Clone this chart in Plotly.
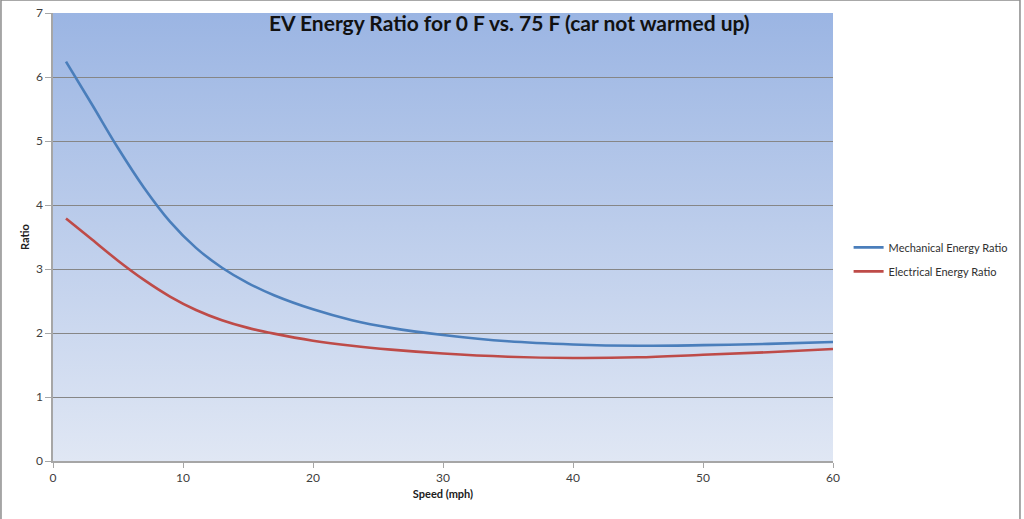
import base64
import plotly.graph_objects as go

speed = [1, 3, 5, 7, 9, 11, 13, 15, 17, 20, 23, 26, 30, 35, 40, 45, 50, 55, 60]
mechanical = [6.24, 5.57, 4.89, 4.27, 3.74, 3.33, 3.02, 2.78, 2.59, 2.37, 2.20, 2.08, 1.97, 1.87, 1.82, 1.80, 1.81, 1.83, 1.86]
electrical = [3.79, 3.46, 3.13, 2.83, 2.57, 2.36, 2.20, 2.08, 1.99, 1.88, 1.80, 1.74, 1.68, 1.63, 1.61, 1.62, 1.66, 1.70, 1.75]

title = "EV Energy Ratio for 0 F vs. 75 F (car not warmed up)"
font_family = "Lato, 'Open Sans', sans-serif"

fig = go.Figure()
fig.add_trace(go.Scatter(x=speed, y=mechanical, mode="lines", name="Mechanical Energy Ratio",
                         legendgroup="a",
                         line=dict(color="#4A7EBB", width=2.6, shape="spline", smoothing=1.0)))
fig.add_trace(go.Scatter(x=speed, y=electrical, mode="lines", name="Electrical Energy Ratio",
                         legendgroup="b",
                         line=dict(color="#BE4B48", width=2.6, shape="spline", smoothing=1.0)))

svg = ('<svg xmlns="http://www.w3.org/2000/svg" width="100" height="100" preserveAspectRatio="none">'
       '<defs><linearGradient id="g" x1="0" y1="0" x2="0" y2="1">'
       '<stop offset="0" stop-color="rgb(155,181,227)"/>'
       '<stop offset="1" stop-color="rgb(224,231,244)"/>'
       '</linearGradient></defs><rect width="100" height="100" fill="url(#g)"/></svg>')
src = "data:image/svg+xml;base64," + base64.b64encode(svg.encode()).decode()

shapes = [dict(type="rect", xref="paper", yref="paper", x0=-0.0667, x1=1.2397,
               y0=-0.15, y1=1.029, line=dict(color="#8C8C8C", width=1.5),
               fillcolor="rgba(0,0,0,0)", layer="above")]

fig.update_layout(
    width=1024, height=519,
    margin=dict(l=53, r=191, t=13, b=58, autoexpand=False),
    paper_bgcolor="white", plot_bgcolor="rgb(190,206,236)",
    images=[dict(source=src, xref="paper", yref="paper", x=0, y=1, sizex=1, sizey=1,
                 xanchor="left", yanchor="top", sizing="stretch", layer="below")],
    shapes=shapes,
    font=dict(family=font_family, size=12, color="#404040"),
    showlegend=True,
    legend=dict(x=1.02, xanchor="left", y=0.45, yanchor="middle", itemwidth=30,
                font=dict(size=11, color="#303030"), tracegroupgap=5,
                bgcolor="rgba(0,0,0,0)"),
    annotations=[dict(text="<b>" + title + "</b>", xref="paper", yref="paper",
                      x=0.585, y=0.978, xanchor="center", yanchor="middle",
                      showarrow=False, font=dict(size=21, color="#111111", family=font_family))],
)
fig.update_xaxes(range=[0, 60], tickvals=[0, 10, 20, 30, 40, 50, 60], showgrid=False,
                 showline=True, linecolor="#A6A6A6", linewidth=1.5, ticks="outside",
                 ticklen=5, tickcolor="#A6A6A6", zeroline=False, automargin=False,
                 title=dict(text="<b>Speed (mph)</b>", font=dict(size=11, color="#202020"), standoff=6))
fig.update_yaxes(range=[0, 7], tickvals=[0, 1, 2, 3, 4, 5, 6, 7], showgrid=True,
                 gridcolor="#868686", gridwidth=1, showline=True, linecolor="#A6A6A6",
                 linewidth=1.5, ticks="outside", ticklen=6, tickcolor="#A6A6A6", zeroline=False,
                 automargin=False,
                 title=dict(text="<b>Ratio</b>", font=dict(size=11, color="#202020"), standoff=4))

fig.write_html("out.html", config={"displayModeBar": False},
               post_script="document.body.style.margin='0';document.body.style.overflow='hidden';")
